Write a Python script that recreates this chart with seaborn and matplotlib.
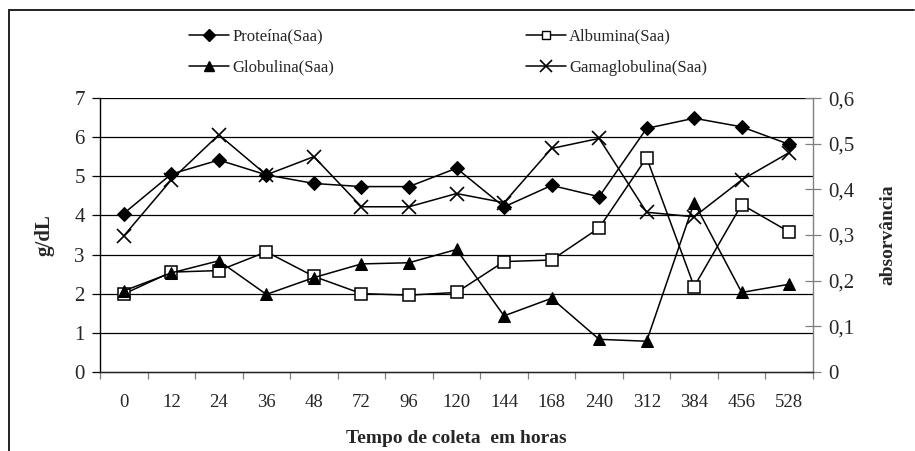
import matplotlib
matplotlib.use('Agg')
import matplotlib.pyplot as plt
from matplotlib.lines import Line2D
import pandas as pd
import seaborn as sns

sns.set_theme(style='white')
plt.rcParams['font.family'] = ['Liberation Serif', 'DejaVu Serif']

# collection times (hours) - categorical axis
horas = ['0', '12', '24', '36', '48', '72', '96', '120', '144', '168',
         '240', '312', '384', '456', '528']

# g/dL (left axis)
proteina = [4.05, 5.06, 5.42, 5.04, 4.82, 4.74, 4.74, 5.21, 4.22, 4.77,
            4.48, 6.23, 6.49, 6.27, 5.82]
albumina = [1.99, 2.55, 2.59, 3.07, 2.44, 2.00, 1.96, 2.03, 2.82, 2.86,
            3.68, 5.48, 2.18, 4.28, 3.58]
globulina = [2.07, 2.53, 2.84, 1.98, 2.41, 2.76, 2.79, 3.13, 1.43, 1.88,
             0.83, 0.78, 4.33, 2.03, 2.24]
# absorbance (right axis)
gamaglobulina = [0.298, 0.421, 0.520, 0.432, 0.472, 0.362, 0.362, 0.391,
                 0.371, 0.490, 0.512, 0.350, 0.340, 0.421, 0.481]

df = pd.DataFrame({'hora': horas, 'prot': proteina, 'alb': albumina,
                   'glob': globulina, 'gama': gamaglobulina})
df['pos'] = range(len(df))

fig = plt.figure(figsize=(9.15, 4.51), dpi=100)
ax = fig.add_axes([100 / 915, 0.1758, 713 / 915, 0.6062])
ax2 = ax.twinx()

# gridlines on the left scale
for v in range(1, 8):
    ax.axhline(v, color='black', lw=0.9, zorder=0)

sns.lineplot(data=df, x='pos', y='prot', marker='D', ms=7, mfc='black',
             mec='black', color='black', lw=1.1, ax=ax, zorder=5)
sns.lineplot(data=df, x='pos', y='alb', marker='s', ms=8, mfc='white',
             mec='black', mew=1.1, color='black', lw=1.1, ax=ax, zorder=5)
sns.lineplot(data=df, x='pos', y='glob', marker='^', ms=9, mfc='black',
             mec='black', color='black', lw=1.1, ax=ax, zorder=5)
sns.lineplot(data=df, x='pos', y='gama', marker='x', ms=10, mew=1.2,
             mec='black', color='black', lw=1.1, ax=ax2, zorder=5)

n = len(horas)
ax.set_xlim(-0.5, n - 0.5)
ax.set_ylim(0, 7)
ax2.set_ylim(0, 0.6)
ax.set_xticks(range(n))
ax.set_xticklabels(horas)
ax.set_xticks([i + 0.5 for i in range(-1, n)], minor=True)
ax.tick_params(axis='x', which='major', length=0, pad=16, labelsize=13.5)
ax.tick_params(axis='x', which='minor', length=5, width=0.9, color='#808080',
               direction='out', bottom=True)
ax.set_yticks(range(0, 8))
ax.tick_params(axis='y', length=6, width=0.9, color='black', labelsize=15,
               left=True, direction='out', pad=5)
ax2.set_yticks([0, 0.1, 0.2, 0.3, 0.4, 0.5, 0.6])
ax2.set_yticklabels(['0', '0,1', '0,2', '0,3', '0,4', '0,5', '0,6'])
ax2.tick_params(axis='y', length=12, width=0.9, color='#808080',
                direction='inout', labelsize=15, right=True, pad=5)

for a in (ax, ax2):
    a.spines['top'].set_visible(False)
ax.spines['right'].set_visible(False)
ax2.spines['left'].set_visible(False)
ax2.spines['right'].set_color('#808080')
ax.spines['left'].set_color('black')
ax.spines['bottom'].set_color('#808080')
for a in (ax, ax2):
    for s in a.spines.values():
        s.set_linewidth(1.0)

ax.set_xlabel('Tempo de coleta  em horas', fontweight='bold', fontsize=14,
              labelpad=14)
ax.set_ylabel('g/dL', fontweight='bold', fontsize=15, labelpad=14)
ax2.set_ylabel('absorvância', fontweight='bold', fontsize=14, labelpad=18)

handles = [
    Line2D([], [], color='black', lw=1.1, marker='D', ms=6, mfc='black'),
    Line2D([], [], color='black', lw=1.1, marker='^', ms=7, mfc='black'),
    Line2D([], [], color='black', lw=1.1, marker='s', ms=6, mfc='white'),
    Line2D([], [], color='black', lw=1.1, marker='x', ms=8, mew=1.2),
]
labels = ['Proteína(Saa)', 'Globulina(Saa)', 'Albumina(Saa)',
          'Gamaglobulina(Saa)']
fig.legend(handles, labels, ncol=2, loc='upper left',
           bbox_to_anchor=(0.19, 0.97), frameon=False, fontsize=12,
           handlelength=2.4, handletextpad=0.2, columnspacing=11.5,
           labelspacing=0.9)

# outer chart frame (top and left only visible)
fig.add_artist(Line2D([9 / 915, 914 / 915], [1 - 10 / 451, 1 - 10 / 451],
                      color='#222222', lw=1.4, transform=fig.transFigure))
fig.add_artist(Line2D([9 / 915, 9 / 915], [1 - 10 / 451, 0],
                      color='#222222', lw=1.4, transform=fig.transFigure))

fig.savefig('out.png', dpi=100)
